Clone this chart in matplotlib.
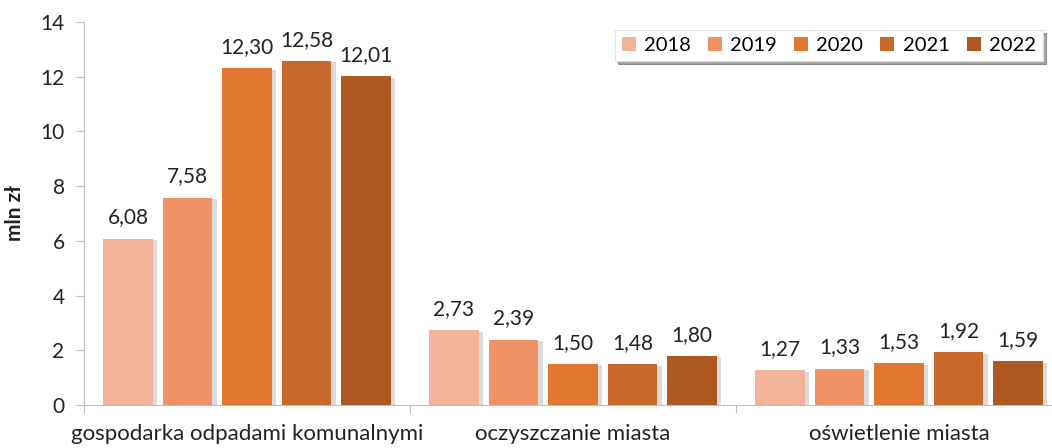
import numpy as np
import matplotlib
matplotlib.use("Agg")
import matplotlib.pyplot as plt
import matplotlib.patheffects as pe

plt.rcParams['font.family'] = ['Lato', 'DejaVu Sans']

categories = ["gospodarka odpadami komunalnymi", "oczyszczanie miasta", "oświetlenie miasta"]
years = ["2018", "2019", "2020", "2021", "2022"]
values = {
    "2018": [6.08, 2.73, 1.27],
    "2019": [7.58, 2.39, 1.33],
    "2020": [12.30, 1.50, 1.53],
    "2021": [12.58, 1.48, 1.92],
    "2022": [12.01, 1.80, 1.59],
}
colors = ["#F3B39B", "#EF9266", "#E07830", "#C8682A", "#AE5922"]

fig = plt.figure(figsize=(10.52, 4.48), dpi=100)
ax = fig.add_axes([0.0798, 0.096, 0.9297, 0.855])

x = np.arange(len(categories))
step = 0.1825
width = 0.153
shadow = [pe.SimplePatchShadow(offset=(3, -1), shadow_rgbFace="#999999", alpha=0.35), pe.Normal()]

for i, yr in enumerate(years):
    pos = x + 0.5 + (i - 2) * step
    bars = ax.bar(pos, values[yr], width, color=colors[i], label=yr, zorder=3)
    for b in bars:
        b.set_path_effects(shadow)
    for px, v in zip(pos, values[yr]):
        ax.annotate(f"{v:.2f}".replace(".", ","), (px, v), xytext=(0, 8),
                    textcoords="offset points", ha="center", va="bottom",
                    fontsize=15, color="#222222")

ax.set_xlim(0, 3)
ax.set_ylim(0, 14)
ax.set_yticks(range(0, 15, 2))
ax.set_xticks([0, 1, 2, 3])
ax.set_xticklabels([])
ax.set_xticks(x + 0.5, minor=True)
ax.set_xticklabels(categories, minor=True, fontsize=16, color="#222222")
ax.tick_params(axis="x", which="minor", length=0, pad=14)
ax.tick_params(axis="x", which="major", length=6, color="#BFBFBF", direction="out")
ax.tick_params(axis="y", length=6, color="#BFBFBF", labelsize=15, labelcolor="#222222", pad=8)

for s in ["top", "right"]:
    ax.spines[s].set_visible(False)
for s in ["left", "bottom"]:
    ax.spines[s].set_color("#BFBFBF")

ax.set_ylabel("mln zł", fontsize=15, fontweight="bold", color="#222222", labelpad=11)

leg = ax.legend(loc="upper right", bbox_to_anchor=(0.9906, 1.005), ncol=5, fontsize=14.5,
                frameon=True, fancybox=False, shadow=True, handlelength=0.7, handleheight=0.7,
                handletextpad=0.4, columnspacing=0.85, borderpad=0.35)
leg.get_frame().set_edgecolor("#E0E0E0")
leg.get_frame().set_linewidth(0.8)
for h in leg.legend_handles:
    h.set_path_effects([])

fig.savefig("out.png", dpi=100)
